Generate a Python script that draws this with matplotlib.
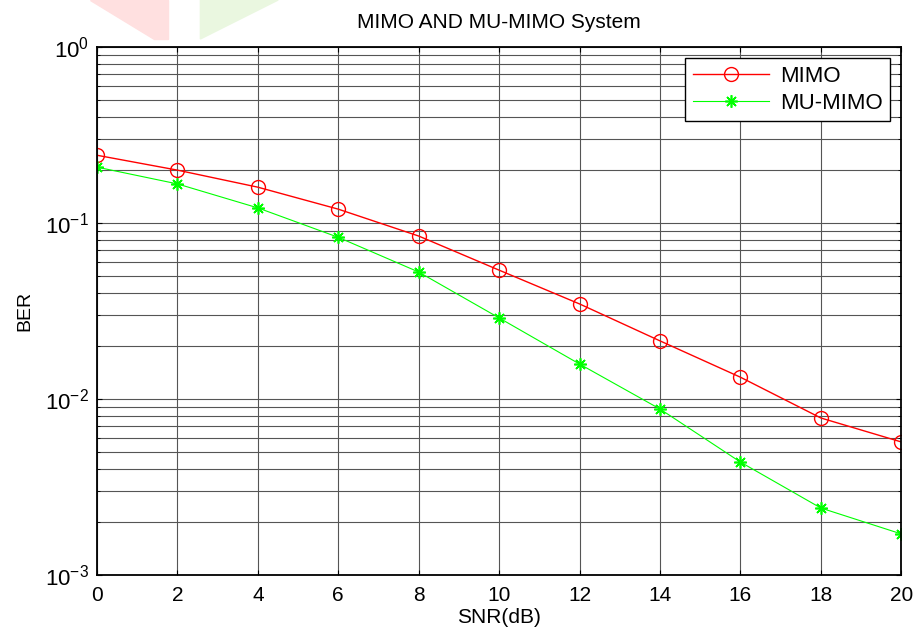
import numpy as np
import matplotlib.pyplot as plt
from matplotlib.patches import Polygon

plt.rcParams['font.family'] = ['Liberation Sans', 'DejaVu Sans']
plt.rcParams['mathtext.fontset'] = 'custom'
plt.rcParams['mathtext.rm'] = 'Liberation Sans'
plt.rcParams['mathtext.it'] = 'Liberation Sans'

snr = [0, 2, 4, 6, 8, 10, 12, 14, 16, 18, 20]
ber_mimo = [0.243, 0.200, 0.160, 0.120, 0.0844, 0.054, 0.0347, 0.0214, 0.0133, 0.0078, 0.0057]
ber_mumimo = [0.208, 0.167, 0.122, 0.083, 0.0527, 0.0289, 0.0158, 0.00877, 0.00438, 0.0024, 0.00171]
yticks = [1e-3, 1e-2, 1e-1, 1]
ytick_labels = ['$10^{-3}$', '$10^{-2}$', '$10^{-1}$', '$10^{0}$']

fig = plt.figure(figsize=(9.15, 6.29), dpi=100)

# faint watermark shapes at the top
fig.patches.append(Polygon([[0.098, 1.0], [0.184, 1.0], [0.184, 0.938], [0.168, 0.938]],
                           closed=True, transform=fig.transFigure, color='#ffe0e0', zorder=0))
fig.patches.append(Polygon([[0.219, 1.0], [0.304, 1.0], [0.219, 0.938]],
                           closed=True, transform=fig.transFigure, color='#eaf7e0', zorder=0))

ax = fig.add_axes([0.106, 0.086, 0.879, 0.839])
ax.semilogy(snr, ber_mimo, '-o', color='#ff0000', lw=1, markersize=10,
            markerfacecolor='none', markeredgewidth=1, label='MIMO')
ax.semilogy(snr, ber_mumimo, '-', color='#00ff00', lw=0.8, marker=(8, 2, 0),
            markersize=9, markeredgewidth=1.2, label='MU-MIMO')

ax.set_xlim(0, 20)
ax.set_ylim(1e-3, 1)
ax.set_xticks(range(0, 21, 2))
ax.set_yticks(yticks)
ax.set_yticklabels(ytick_labels)
ax.grid(True, which='major', color='#555555', lw=0.8)
ax.grid(True, which='minor', axis='y', color='#555555', lw=0.8)
ax.tick_params(which='both', direction='in', top=True, right=True)
ax.tick_params(axis='x', pad=8, labelsize=15)
ax.tick_params(axis='y', pad=6, labelsize=16)
for s in ax.spines.values():
    s.set_linewidth(1.3)

ax.set_xlabel('SNR(dB)', fontsize=15, labelpad=2)
ax.set_ylabel('BER', fontsize=14, labelpad=8)
ax.set_title('MIMO AND MU-MIMO System', fontsize=15, pad=14)

leg = ax.legend(loc='upper right', fontsize=16, fancybox=False, framealpha=1,
                edgecolor='black', handlelength=3.4, handletextpad=0.5,
                borderaxespad=0.5, labelspacing=0.25, borderpad=0.35)
leg.get_frame().set_linewidth(1)

fig.savefig('out.png', dpi=100)
